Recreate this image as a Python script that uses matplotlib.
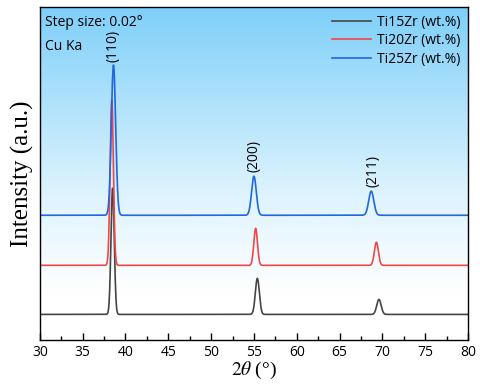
import numpy as np
import matplotlib
matplotlib.use("Agg")
import matplotlib.pyplot as plt
from matplotlib.colors import LinearSegmentedColormap

plt.rcParams["mathtext.fontset"] = "stix"

# peak data (2theta, height above baseline, FWHM)
labels = ["Ti15Zr (wt.%)", "Ti20Zr (wt.%)", "Ti25Zr (wt.%)"]
colors = ["#454545", "#f04848", "#2266e0"]
baselines = [26, 75, 125]
peak_pos = [[38.5, 55.4, 69.6], [38.4, 55.2, 69.3], [38.6, 55.0, 68.7]]
peak_height = [[126, 36, 15], [165, 37, 23], [150, 39, 24]]
peak_fwhm = [[0.45, 0.55, 0.6], [0.45, 0.5, 0.55], [0.6, 0.65, 0.7]]

hkl = ["(110)", "(200)", "(211)"]
hkl_x = [38.6, 55.0, 68.9]
hkl_y = [278, 168, 153]

two_theta = np.arange(30, 80.001, 0.02)


def pattern(base, pos, hgt, w):
    y = np.full_like(two_theta, float(base))
    for p, h, f in zip(pos, hgt, w):
        s = f / 2.3548
        y += h * np.exp(-0.5 * ((two_theta - p) / s) ** 2)
    return y


fig, ax = plt.subplots(figsize=(4.8, 3.86), dpi=100)
fig.subplots_adjust(left=0.083, right=0.975, top=0.982, bottom=0.118)

# blue to white background gradient
cmap = LinearSegmentedColormap.from_list(
    "bg", [(0, "#ffffff"), (0.14, "#ffffff"), (0.45, "#dcf3fe"), (1, "#7ecff9")])
grad = np.linspace(0, 1, 256).reshape(-1, 1)
ax.imshow(grad, aspect="auto", cmap=cmap, origin="lower",
          extent=[30, 80, 0, 333], zorder=0)

for lab, c, b, pos, hgt, w in zip(labels, colors, baselines, peak_pos, peak_height, peak_fwhm):
    ax.plot(two_theta, pattern(b, pos, hgt, w), color=c, lw=1.2, label=lab, zorder=2)

for t, x, y in zip(hkl, hkl_x, hkl_y):
    ax.text(x, y, t, rotation=90, ha="center", va="bottom",
            fontsize=10, family="Open Sans", zorder=3)

ax.text(0.012, 0.975, "Step size: 0.02°", transform=ax.transAxes,
        fontsize=10, family="Open Sans", va="top")
ax.text(0.012, 0.905, "Cu Ka", transform=ax.transAxes,
        fontsize=10, family="Open Sans", va="top")

leg = ax.legend(loc="upper right", frameon=False, handlelength=2.8,
                prop={"family": "Open Sans", "size": 10}, labelspacing=0.25,
                borderaxespad=0.15, handletextpad=0.4)

ax.set_xlim(30, 80)
ax.set_ylim(0, 333)
ax.set_yticks([])
ax.set_xticks(np.arange(30, 81, 5))
ax.set_xticks(np.arange(32.5, 80, 5), minor=True)
ax.tick_params(axis="x", which="major", direction="in", length=5, width=1,
               labelsize=10)
ax.tick_params(axis="x", which="minor", direction="in", length=3, width=1)
for lbl in ax.get_xticklabels():
    lbl.set_family("Open Sans")
for s in ax.spines.values():
    s.set_linewidth(1)

ax.set_xlabel(r"$2\theta$ (°)", family="Liberation Serif", fontsize=14, labelpad=0)
ax.set_ylabel("Intensity (a.u.)", family="Liberation Serif", fontsize=18, labelpad=4)

fig.savefig("out.png", dpi=100)
